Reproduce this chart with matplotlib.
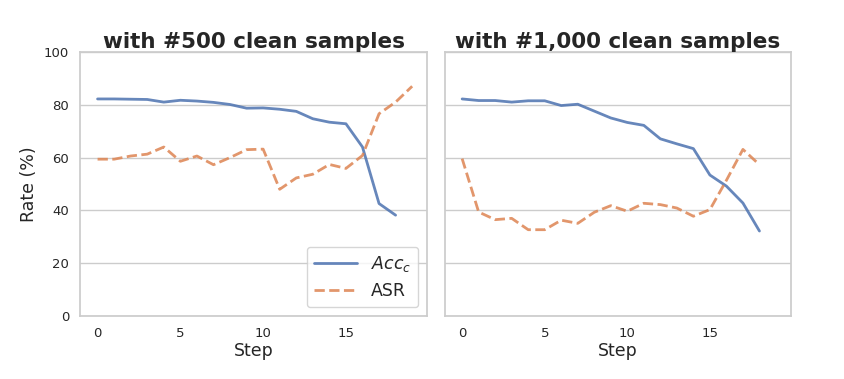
import matplotlib
matplotlib.use("Agg")
import matplotlib.pyplot as plt
import seaborn as sns

sns.set_theme(style="whitegrid", palette="deep")

# left panel: 500 clean samples
acc_500 = [82.2, 82.2, 82.1, 82.0, 81.0, 81.7, 81.4, 80.9, 80.1, 78.7,
           78.8, 78.3, 77.5, 74.7, 73.4, 72.8, 64.0, 42.6, 38.2]
asr_500 = [59.4, 59.4, 60.6, 61.3, 64.0, 58.6, 60.6, 57.3, 60.0, 63.0,
           63.2, 48.0, 52.3, 53.7, 57.4, 55.9, 60.8, 76.6, 81.0, 87.0]

# right panel: 1,000 clean samples
acc_1000 = [82.2, 81.6, 81.6, 81.0, 81.5, 81.5, 79.7, 80.2, 77.6, 75.0,
            73.3, 72.2, 67.1, 65.2, 63.4, 53.4, 49.2, 42.8, 32.2]
asr_1000 = [59.6, 39.4, 36.5, 37.0, 32.7, 32.7, 36.3, 35.1, 39.3, 41.8,
            39.7, 42.7, 42.2, 40.9, 37.8, 40.3, 51.4, 63.1, 57.3]

titles = ["with #500 clean samples", "with #1,000 clean samples"]
panels = [(acc_500, asr_500), (acc_1000, asr_1000)]

blue, orange = sns.color_palette("deep")[0], sns.color_palette("deep")[1]

fig = plt.figure(figsize=(8.44, 3.79), dpi=100)
ax1 = fig.add_axes([0.095, 0.166, 0.411, 0.697])
ax2 = fig.add_axes([0.527, 0.166, 0.410, 0.697], sharey=ax1)

for ax, (acc, asr), title in zip([ax1, ax2], panels, titles):
    ax.plot(range(len(acc)), acc, color=blue, lw=2, alpha=0.85, label="$Acc_c$")
    ax.plot(range(len(asr)), asr, color=orange, lw=2, ls="--", alpha=0.85, label="ASR")
    ax.set_title(title, fontsize=15.5, fontweight="bold", pad=3)
    ax.set_xlabel("Step", fontsize=12.5, labelpad=1)
    ax.set_xlim(-1.05, 19.9)
    ax.set_xticks([0, 5, 10, 15])
    ax.tick_params(labelsize=9.5, pad=2)
    ax.grid(axis="x", visible=False)
    for s in ax.spines.values():
        s.set_color("#cccccc")

ax1.set_ylim(0, 100)
ax1.set_yticks([0, 20, 40, 60, 80, 100])
ax1.set_ylabel("Rate (%)", fontsize=12.5)
ax2.tick_params(labelleft=False)
ax1.legend(loc="lower right", fontsize=12.5, handlelength=2.5)

fig.savefig("out.png", dpi=100)
